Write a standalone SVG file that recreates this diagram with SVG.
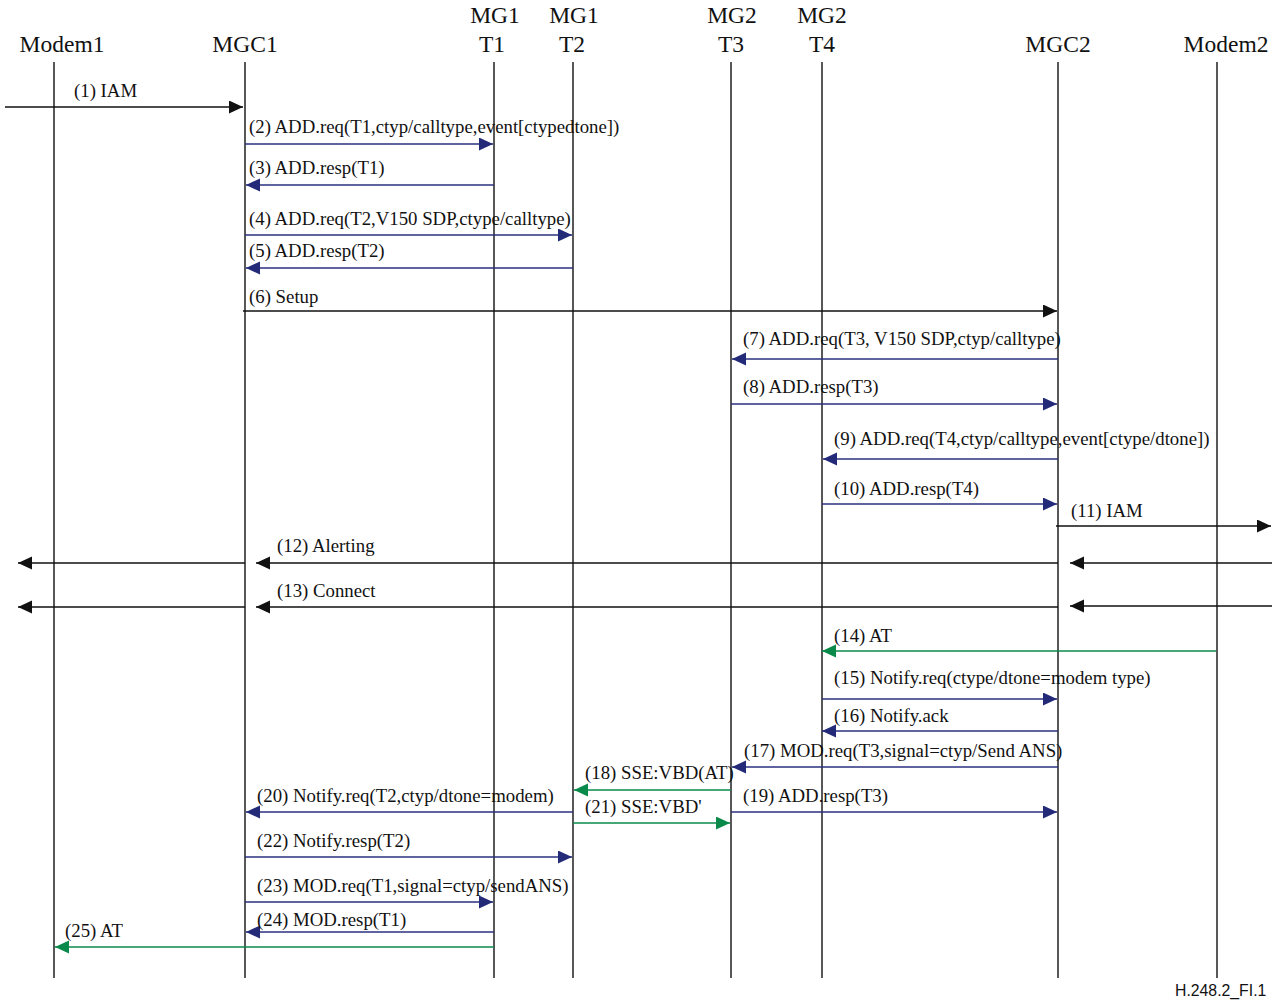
<svg xmlns="http://www.w3.org/2000/svg" width="1278" height="1000" viewBox="0 0 1278 1000">
<style>
.hd{font-family:"Liberation Serif","Times New Roman",serif;font-size:23.5px;fill:#111;text-anchor:middle}
.lb{font-family:"Liberation Serif","Times New Roman",serif;font-size:18.8px;fill:#111}
.ll{stroke:#111;stroke-width:1.4;fill:none}
.bk{stroke:#111;stroke-width:1.4;fill:none;marker-end:url(#ab)}
.nv{stroke:#2a3080;stroke-width:1.4;fill:none;marker-end:url(#an)}
.gr{stroke:#0a8a4a;stroke-width:1.4;fill:none;marker-end:url(#ag)}
.ft{font-family:"Liberation Sans",Arial,sans-serif;font-size:15.8px;fill:#111}
</style>
<defs>
<marker id="ab" markerUnits="userSpaceOnUse" markerWidth="16" markerHeight="14" refX="14" refY="6.5" orient="auto"><path d="M0,0 L14,6.5 L0,13 z" fill="#111"/></marker>
<marker id="an" markerUnits="userSpaceOnUse" markerWidth="16" markerHeight="14" refX="14" refY="6.5" orient="auto"><path d="M0,0 L14,6.5 L0,13 z" fill="#232a78"/></marker>
<marker id="ag" markerUnits="userSpaceOnUse" markerWidth="16" markerHeight="14" refX="14" refY="6.5" orient="auto"><path d="M0,0 L14,6.5 L0,13 z" fill="#0a8a4a"/></marker>
</defs>
<rect width="1278" height="1000" fill="#fff"/>
<g id="modem1"><text class="hd" x="62" y="52">Modem1</text><line class="ll" x1="54" y1="62" x2="54" y2="978"/></g>
<g id="mgc1"><text class="hd" x="245" y="52">MGC1</text><line class="ll" x1="245" y1="62" x2="245" y2="978"/></g>
<g id="mg1t1"><text class="hd" x="495" y="23">MG1</text><text class="hd" x="492" y="52">T1</text><line class="ll" x1="494" y1="62" x2="494" y2="978"/></g>
<g id="mg1t2"><text class="hd" x="574" y="23">MG1</text><text class="hd" x="572" y="52">T2</text><line class="ll" x1="573" y1="62" x2="573" y2="978"/></g>
<g id="mg2t3"><text class="hd" x="732" y="23">MG2</text><text class="hd" x="731" y="52">T3</text><line class="ll" x1="731" y1="62" x2="731" y2="978"/></g>
<g id="mg2t4"><text class="hd" x="822" y="23">MG2</text><text class="hd" x="822" y="52">T4</text><line class="ll" x1="822" y1="62" x2="822" y2="978"/></g>
<g id="mgc2"><text class="hd" x="1058" y="52">MGC2</text><line class="ll" x1="1058" y1="62" x2="1058" y2="978"/></g>
<g id="modem2"><text class="hd" x="1226" y="52">Modem2</text><line class="ll" x1="1217" y1="62" x2="1217" y2="978"/></g>
<g id="connectors">
<line class="bk" x1="5" y1="107" x2="243" y2="107"/>
<line class="nv" x1="245" y1="144" x2="493" y2="144"/>
<line class="nv" x1="494" y1="185" x2="246" y2="185"/>
<line class="nv" x1="245" y1="235" x2="572" y2="235"/>
<line class="nv" x1="573" y1="268" x2="246" y2="268"/>
<line class="bk" x1="243" y1="311" x2="1057" y2="311"/>
<line class="nv" x1="1058" y1="359" x2="732" y2="359"/>
<line class="nv" x1="731" y1="404" x2="1057" y2="404"/>
<line class="nv" x1="1058" y1="459" x2="823" y2="459"/>
<line class="nv" x1="822" y1="504" x2="1057" y2="504"/>
<line class="bk" x1="1056" y1="526" x2="1271" y2="526"/>
<line class="bk" x1="1272" y1="563" x2="1070" y2="563"/>
<line class="bk" x1="1058" y1="563" x2="256" y2="563"/>
<line class="bk" x1="245" y1="563" x2="18" y2="563"/>
<line class="bk" x1="1272" y1="606" x2="1070" y2="606"/>
<line class="bk" x1="1058" y1="607" x2="256" y2="607"/>
<line class="bk" x1="245" y1="607" x2="18" y2="607"/>
<line class="gr" x1="1216" y1="651" x2="822" y2="651"/>
<line class="nv" x1="822" y1="699" x2="1057" y2="699"/>
<line class="nv" x1="1058" y1="731" x2="822" y2="731"/>
<line class="nv" x1="1058" y1="767" x2="732" y2="767"/>
<line class="gr" x1="731" y1="790" x2="574" y2="790"/>
<line class="nv" x1="731" y1="812" x2="1057" y2="812"/>
<line class="nv" x1="573" y1="812" x2="246" y2="812"/>
<line class="gr" x1="573" y1="823" x2="730" y2="823"/>
<line class="nv" x1="245" y1="857" x2="572" y2="857"/>
<line class="nv" x1="245" y1="902" x2="493" y2="902"/>
<line class="nv" x1="494" y1="932" x2="246" y2="932"/>
<line class="gr" x1="494" y1="947" x2="55" y2="947"/>
</g>
<g id="labels">
<text class="lb" x="74" y="97">(1) IAM</text>
<text class="lb" x="249" y="133">(2) ADD.req(T1,ctyp/calltype,event[ctypedtone])</text>
<text class="lb" x="249" y="174">(3) ADD.resp(T1)</text>
<text class="lb" x="249" y="225">(4) ADD.req(T2,V150 SDP,ctype/calltype)</text>
<text class="lb" x="249" y="257">(5) ADD.resp(T2)</text>
<text class="lb" x="249" y="303">(6) Setup</text>
<text class="lb" x="743" y="345">(7) ADD.req(T3, V150 SDP,ctyp/calltype)</text>
<text class="lb" x="743" y="393">(8) ADD.resp(T3)</text>
<text class="lb" x="834" y="445">(9) ADD.req(T4,ctyp/calltype,event[ctype/dtone])</text>
<text class="lb" x="834" y="495">(10) ADD.resp(T4)</text>
<text class="lb" x="1071" y="517">(11) IAM</text>
<text class="lb" x="277" y="552">(12) Alerting</text>
<text class="lb" x="277" y="597">(13) Connect</text>
<text class="lb" x="834" y="642">(14) AT</text>
<text class="lb" x="834" y="684">(15) Notify.req(ctype/dtone=modem type)</text>
<text class="lb" x="834" y="722">(16) Notify.ack</text>
<text class="lb" x="744" y="757">(17) MOD.req(T3,signal=ctyp/Send ANS)</text>
<text class="lb" x="585" y="779">(18) SSE:VBD(AT)</text>
<text class="lb" x="743" y="802">(19) ADD.resp(T3)</text>
<text class="lb" x="257" y="802">(20) Notify.req(T2,ctyp/dtone=modem)</text>
<text class="lb" x="585" y="813">(21) SSE:VBD'</text>
<text class="lb" x="257" y="847">(22) Notify.resp(T2)</text>
<text class="lb" x="257" y="892">(23) MOD.req(T1,signal=ctyp/sendANS)</text>
<text class="lb" x="257" y="926">(24) MOD.resp(T1)</text>
<text class="lb" x="65" y="937">(25) AT</text>
</g>
<text class="ft" x="1175" y="996">H.248.2_FI.1</text>
</svg>
